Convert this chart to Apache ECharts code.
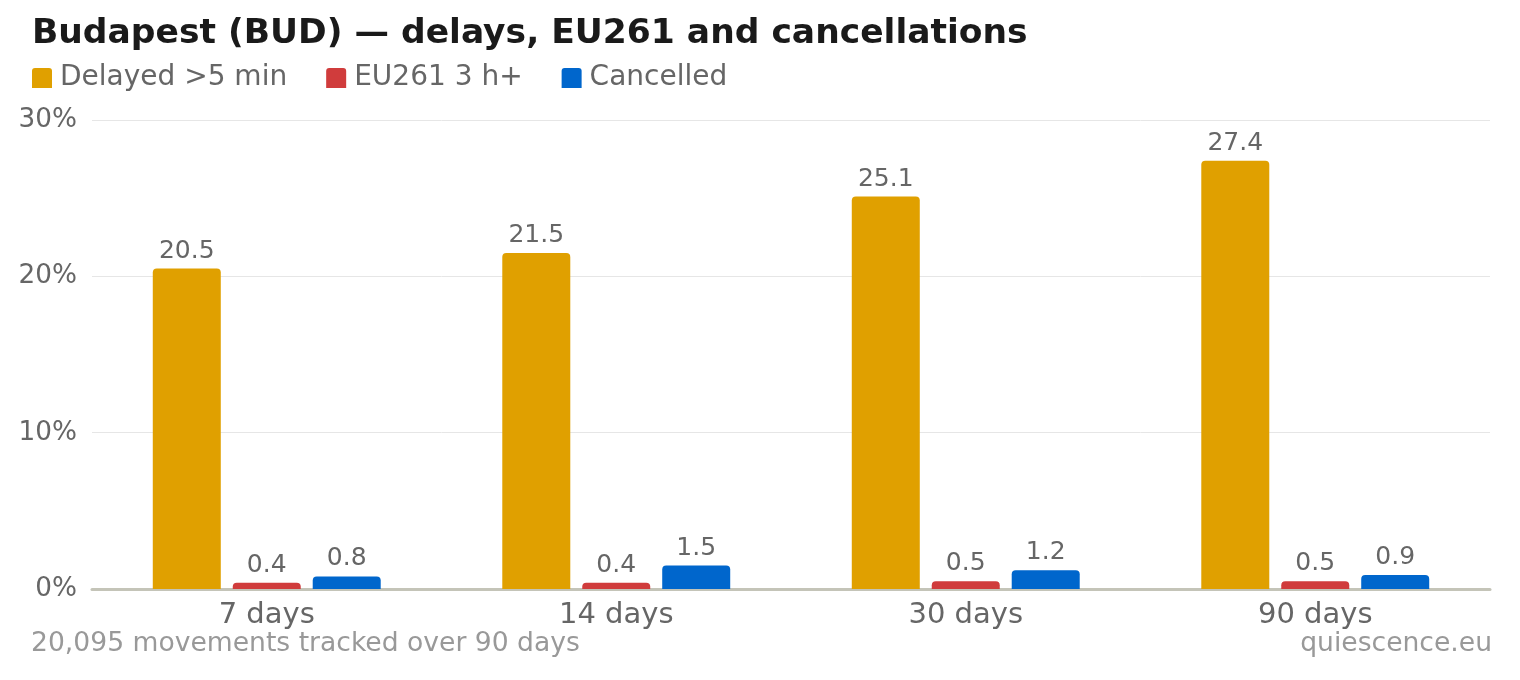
<!DOCTYPE html>
<html>
<head>
<meta charset="utf-8">
<title>BUD delays</title>
<script src="https://cdn.jsdelivr.net/npm/echarts@6/dist/echarts.min.js"></script>
<style>
  html, body { margin: 0; padding: 0; background: #fff; }
  #chart { width: 1520px; height: 680px; }
</style>
</head>
<body>
<div id="chart"></div>
<script>
var periods = ['7 days', '14 days', '30 days', '90 days'];
var delayed = [20.5, 21.5, 25.1, 27.4];
var eu261 = [0.4, 0.4, 0.5, 0.5];
var cancelled = [0.8, 1.5, 1.2, 0.9];
var yTicks = [0, 10, 20, 30];

var font = 'DejaVu Sans';
var chart = echarts.init(document.getElementById('chart'));

function bar(name, data, color) {
  return {
    name: name,
    type: 'bar',
    data: data,
    barWidth: 68,
    barGap: '17.6%',
    itemStyle: { color: color, borderRadius: [4, 4, 0, 0] },
    label: {
      show: true,
      position: 'top',
      distance: 5,
      fontFamily: font,
      fontSize: 25,
      color: '#666',
      formatter: function (p) { return p.value.toFixed(1); }
    }
  };
}

chart.setOption({
  animation: false,
  textStyle: { fontFamily: font },
  title: {
    text: 'Budapest (BUD) \u2014 delays, EU261 and cancellations',
    left: 32, top: 17, padding: 0,
    textStyle: { fontFamily: font, fontSize: 34.5, fontWeight: 'bold', color: '#1a1a1a' }
  },
  legend: {
    left: 32, top: 64, padding: 0,
    itemWidth: 20, itemHeight: 20, itemGap: 39,
    icon: 'path://M3,0 L17,0 Q20,0 20,3 L20,20 L0,20 L0,3 Q0,0 3,0 Z',
    textStyle: { fontFamily: font, fontSize: 28, color: '#666', padding: [3, 0, 0, 3] }
  },
  graphic: [
    { type: 'text', left: 31, top: 631,
      style: { text: '20,095 movements tracked over 90 days', font: '26.6px "DejaVu Sans"', fill: '#999' } },
    { type: 'text', right: 28, top: 631,
      style: { text: 'quiescence.eu', font: '26.6px "DejaVu Sans"', fill: '#999' } }
  ],
  grid: { left: 92, right: 30, top: 120, bottom: 91 },
  xAxis: {
    type: 'category',
    data: periods,
    axisTick: { show: false },
    axisLine: { lineStyle: { color: '#c4c4b8', width: 3 } },
    axisLabel: { fontFamily: font, fontSize: 29, color: '#666', margin: 12 }
  },
  yAxis: {
    type: 'value',
    min: yTicks[0], max: yTicks[yTicks.length - 1], interval: 10,
    splitLine: { lineStyle: { color: '#e6e6e6', width: 1 } },
    axisLabel: { fontFamily: font, fontSize: 26.3, color: '#666', margin: 15,
      formatter: '{value}%' }
  },
  series: [
    bar('Delayed >5 min', delayed, '#e0a000'),
    bar('EU261 3 h+', eu261, '#d03c3c'),
    bar('Cancelled', cancelled, '#0066cc')
  ]
});
</script>
</body>
</html>
